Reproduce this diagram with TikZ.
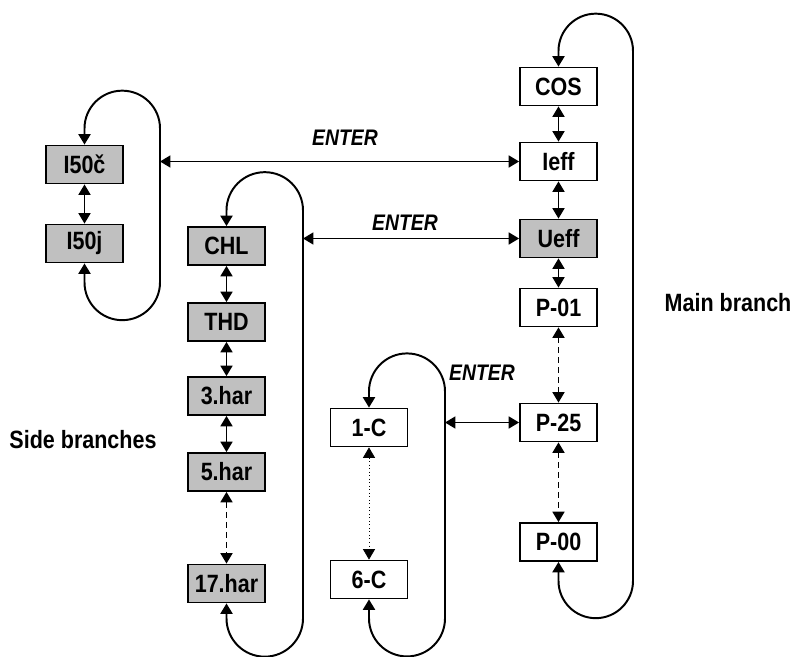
\documentclass[tikz,border=0pt]{standalone}
\usepackage{fontspec}
\setmainfont{Liberation Sans}[FakeStretch=0.86]
\usepackage{xcolor}
\definecolor{boxgray}{HTML}{C0C0C0}
\usetikzlibrary{arrows.meta}
\tikzset{
  >={Triangle[length=2.6mm,width=3mm]},
  box/.style={draw,fill=white,line width=1.3pt,minimum width=19.25mm,minimum height=9.5mm,
    inner sep=0pt,font=\fontsize{17.8}{20}\selectfont\bfseries},
  boxg/.style={box,fill=boxgray},
  link/.style={<->,line width=1.1pt},
  dlink/.style={link,dash pattern=on 1.5mm off 1mm},
  plink/.style={link,line width=0.5pt,dotted},
  wrap/.style={<->,line width=1.4pt},
  lbl/.style={font=\fontsize{17.8}{20}\selectfont\bfseries},
  enter/.style={font=\fontsize{16}{18}\selectfont\bfseries\itshape},
}
\begin{document}
\begin{tikzpicture}[x=0.25mm,y=0.25mm]
  \useasboundingbox (0,0) rectangle (792,-657);
  % main branch
  \foreach \n/\t/\y/\s in {cos/COS/86.5/box, ieff/Ieff/161.5/box, ueff/Ueff/238.5/boxg,
                          p01/P-01/307.5/box, p25/P-25/422.5/box, p00/P-00/542/box}{
    \node[\s] (\n) at (558.5,-\y) {\t};
  }
  % side branches
  \node[boxg] (i50c) at (84.5,-164.5) {I50č};
  \node[boxg] (i50j) at (84.5,-243.5) {I50j};
  \foreach \n/\t/\y in {chl/CHL/246, thd/THD/322, h3/3.har/396, h5/5.har/472, h17/17.har/583.5}{
    \node[boxg] (\n) at (226.5,-\y) {\t};
  }
  \node[box] (c1) at (369,-427.5) {1-C};
  \node[box] (c6) at (369,-579.5) {6-C};
  \node[lbl] (side) at (83,-440) {Side branches};
  \node[lbl] (main) at (728,-303) {Main branch};
  % steps inside the branches
  \foreach \a/\b in {cos/ieff, ieff/ueff, ueff/p01, i50c/i50j, chl/thd, thd/h3, h3/h5}
    \draw[link] (\a) -- (\b);
  \foreach \a/\b in {p01/p25, p25/p00, h5/h17}
    \draw[dlink] (\a) -- (\b);
  \draw[plink] (c1) -- (c6);
  % loops back to the first item
  \draw[wrap] (p00.south) -- ++(0,-19) arc[start angle=180,end angle=360,radius=37.25]
    -- ++(0,530) arc[start angle=0,end angle=180,radius=37.25] -- (cos.north);
  \draw[wrap] (i50j.south) -- ++(0,-19) arc[start angle=180,end angle=360,radius=37.75]
    -- ++(0,154) coordinate (i50r) arc[start angle=0,end angle=180,radius=37.75] -- (i50c.north);
  \draw[wrap] (h17.south) -- ++(0,-15) arc[start angle=180,end angle=360,radius=38.25]
    -- ++(0,408) coordinate (chlr) arc[start angle=0,end angle=180,radius=38.25] -- (chl.north);
  \draw[wrap] (c6.south) -- ++(0,-19) arc[start angle=180,end angle=360,radius=38]
    -- ++(0,227) coordinate (c1r) arc[start angle=0,end angle=180,radius=38] -- (c1.north);
  % ENTER links
  \draw[link] (i50r |- ieff.west) -- (ieff.west);
  \draw[link] (chlr |- ueff.west) -- (ueff.west);
  \draw[link] (c1r |- p25.west) -- (p25.west);
  \node[enter] (en1) at (345,-138) {ENTER};
  \node[enter] (en2) at (405,-223) {ENTER};
  \node[enter] (en3) at (482,-373) {ENTER};
\end{tikzpicture}
\end{document}
